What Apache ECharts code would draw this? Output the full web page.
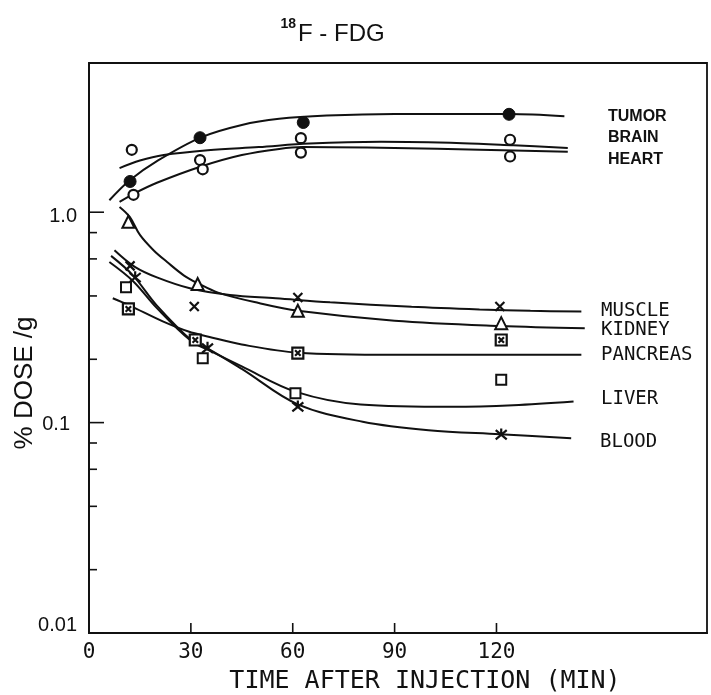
<!DOCTYPE html>
<html>
<head>
<meta charset="utf-8">
<script src="https://cdn.jsdelivr.net/npm/echarts@6/dist/echarts.min.js"></script>
<style>
html,body{margin:0;padding:0;background:#fff;}
#c{width:711px;height:695px;}
</style>
</head>
<body>
<div id="c"></div>
<script>
// ---------- data ----------
const xTickLabels = [0, 30, 60, 90, 120];
const xTicks = [30, 60, 90, 120];
const yMajorTicks = [0.01, 0.1, 1];
const yMinorTicks = [0.02, 0.04, 0.06, 0.08, 0.2, 0.4, 0.6, 0.8];

// measured points [min, %dose/g]
const tumorPts    = [[12.1,1.40],[32.7,2.26],[63.1,2.67],[123.7,2.92]];
const brainPts    = [[12.6,1.98],[32.7,1.77],[62.4,2.25],[124,2.21]];
const heartPts    = [[13.1,1.21],[33.5,1.60],[62.4,1.92],[124,1.84]];
const musclePts   = [[12.1,0.556],[31,0.356],[61.5,0.393],[121,0.356]];
const kidneyPts   = [[11.6,0.90],[32,0.456],[61.5,0.34],[121.4,0.297]];
const pancreasPts = [[11.6,0.347],[31.3,0.247],[61.5,0.214],[121.4,0.247]];
const liverPts    = [[10.9,0.44],[33.5,0.202],[60.8,0.138],[121.4,0.160]];
const bloodPts    = [[13.6,0.494],[34.9,0.228],[61.5,0.120],[121.4,0.0884]];

// hand-drawn fitted curves
const tumorCurve    = [[6,1.14],[12,1.42],[20,1.75],[33,2.27],[45,2.6],[56,2.78],[70,2.88],[90,2.93],[123.7,2.93],[140,2.86]];
const brainCurve    = [[9,1.62],[15,1.76],[22,1.87],[35,1.97],[50,2.04],[65,2.12],[86,2.16],[110,2.13],[125,2.08],[141,2.02]];
const heartCurve    = [[9,1.12],[13,1.22],[20,1.38],[33,1.65],[45,1.87],[56,2.0],[63,2.04],[90,2.02],[115,1.98],[141,1.94]];
const muscleCurve   = [[7.5,0.66],[13.5,0.55],[20,0.49],[29.7,0.435],[41.5,0.404],[55,0.39],[71,0.373],[95,0.355],[115,0.345],[130,0.34],[145,0.337]];
const kidneyCurve   = [[9,1.06],[12,0.95],[15,0.78],[19,0.66],[23,0.58],[28,0.5],[32,0.46],[38,0.415],[50,0.37],[61.5,0.34],[90,0.305],[121,0.288],[146,0.281]];
const pancreasCurve = [[7,0.39],[12,0.36],[21.9,0.302],[29.3,0.271],[35.2,0.256],[45,0.235],[61.5,0.215],[90,0.21],[120,0.21],[145,0.21]];
const liverCurve    = [[6,0.58],[13,0.47],[20,0.35],[30,0.245],[36,0.218],[45,0.185],[61,0.14],[80,0.122],[107,0.119],[125,0.121],[142.7,0.126]];
const bloodCurve    = [[6.5,0.62],[13,0.50],[20,0.36],[30.7,0.242],[35,0.225],[45,0.18],[61.5,0.122],[80.6,0.101],[100,0.092],[121,0.088],[142,0.0842]];

const tissueLabels = ['TUMOR','BRAIN','HEART','MUSCLE','KIDNEY','PANCREAS','LIVER','BLOOD'];
// ---------------------------------------------------

const INK = '#111';
const chart = echarts.init(document.getElementById('c'), null, {renderer:'canvas'});

function curve(name, data){
  return {type:'line', name:name, data:data, smooth:0.35, showSymbol:false, symbol:'none',
    lineStyle:{color:INK, width:2}, z:2, silent:true, animation:false};
}
function pts(name, data, symbol, size, fill, bw){
  return {type:'scatter', name:name, data:data, symbol:symbol, symbolSize:size,
    itemStyle:{color:fill, borderColor:INK, borderWidth:bw, opacity:1}, z:4, silent:true, animation:false};
}
const X_PATH = 'path://M0,0L10,10M10,0L0,10';
const STAR_PATH = 'path://M0,1L10,11M10,1L0,11M5,-1L5,6';
const BOXX_PATH = 'path://M0,0L10,0L10,10L0,10Z M2.5,2.5L7.5,7.5M7.5,2.5L2.5,7.5';

function tickSeries(data, len, dir){
  return {type:'custom', data:data, clip:false, silent:true, z:5, animation:false,
    renderItem:function(params, api){
      const p = api.coord([api.value(0), api.value(1)]);
      const shape = dir==='y' ? {x1:p[0], y1:p[1], x2:p[0]+len, y2:p[1]} : {x1:p[0], y1:p[1], x2:p[0], y2:p[1]-len};
      return {type:'line', shape:shape, style:{stroke:INK, lineWidth:1.6}};
    }};
}

const labelFont = '"DejaVu Sans Mono", monospace';
const topFont = '"Liberation Sans", Arial, sans-serif';

function txt(text, x, y, size, family, align, extra, weight){
  return Object.assign({type:'text', x:x, y:y, silent:true,
    style:{text:text, fontSize:size, fontFamily:family, fontWeight:weight||'normal', fill:INK, align:align||'left', verticalAlign:'middle',
      textAlign:align||'left', textVerticalAlign:'middle'}}, extra||{});
}

const yLabelFont = {fontSize:20, fontFamily:'"Liberation Sans Narrow","Liberation Sans",Arial,sans-serif', color:INK};

const option = {
  backgroundColor:'#fff',
  animation:false,
  grid:{left:89, top:63, right:4, bottom:62, show:true, borderColor:INK, borderWidth:1.8, containLabel:false},
  xAxis:{type:'value', min:0, max:182, interval:30,
    axisLine:{show:true, lineStyle:{color:INK, width:1.8}},
    axisTick:{show:false}, splitLine:{show:false},
    axisLabel:{margin:9, fontSize:21, fontFamily:labelFont, color:INK,
      formatter:function(v){ return xTickLabels.indexOf(v)>=0 ? String(v) : ''; }}
  },
  yAxis:{type:'log', logBase:10, min:0.01, max:5.12,
    axisLine:{show:true, lineStyle:{color:INK, width:1.8}},
    axisTick:{show:false}, splitLine:{show:false}, minorTick:{show:false},
    axisLabel:{margin:12, showMaxLabel:false,
      formatter:function(v){
        const l = Math.round(Math.log10(v)*1000)/1000;
        if (l===0) return '{a|1.0}';
        if (l===-1) return '{b|0.1}';
        if (l===-2) return '{c|0.01}';
        return '';
      },
      rich:{
        a:Object.assign({padding:[8,0,0,0]}, yLabelFont),
        b:Object.assign({padding:[4,7,0,0]}, yLabelFont),
        c:Object.assign({padding:[0,0,16,0]}, yLabelFont)
      }}
  },
  series:[
    curve('tumorCurve', tumorCurve),
    curve('brainCurve', brainCurve),
    curve('heartCurve', heartCurve),
    curve('muscleCurve', muscleCurve),
    curve('kidneyCurve', kidneyCurve),
    curve('pancreasCurve', pancreasCurve),
    curve('liverCurve', liverCurve),
    curve('bloodCurve', bloodCurve),
    pts('TUMOR', tumorPts, 'circle', 12, INK, 1),
    pts('BRAIN', brainPts, 'circle', 10, '#fff', 2.2),
    pts('HEART', heartPts, 'circle', 10, '#fff', 2.2),
    pts('MUSCLE', musclePts, X_PATH, 9, 'rgba(0,0,0,0)', 2.2),
    pts('KIDNEY', kidneyPts, 'triangle', 12, '#fff', 2),
    pts('PANCREAS', pancreasPts, BOXX_PATH, 11, '#fff', 2.2),
    pts('LIVER', liverPts, 'rect', 10, '#fff', 2),
    pts('BLOOD', bloodPts, STAR_PATH, 11, 'rgba(0,0,0,0)', 2.2),
    tickSeries(yMajorTicks.map(v=>[0,v]), 15, 'y'),
    tickSeries(yMinorTicks.map(v=>[0,v]), 8, 'y'),
    tickSeries(xTicks.map(v=>[v,0.01]), 10, 'x')
  ],
  graphic:[
    txt('18', 296, 24, 14, topFont, 'right', null, 'bold'),
    txt('F - FDG', 298, 34, 24, topFont, 'left'),
    txt(tissueLabels[0], 608, 117, 16, topFont, 'left', null, 'bold'),
    txt(tissueLabels[1], 608, 138, 16, topFont, 'left', null, 'bold'),
    txt(tissueLabels[2], 608, 160, 16, topFont, 'left', null, 'bold'),
    txt(tissueLabels[3], 601, 311, 19, labelFont),
    txt(tissueLabels[4], 601, 330, 19, labelFont),
    txt(tissueLabels[5], 601, 355, 19, labelFont),
    txt(tissueLabels[6], 601, 399, 19, labelFont),
    txt(tissueLabels[7], 600, 442, 19, labelFont),
    txt('TIME AFTER INJECTION (MIN)', 425, 681, 25, labelFont, 'center'),
    txt('% DOSE /g', 25, 383, 26, topFont, 'center', {rotation:Math.PI/2})
  ]
};
chart.setOption(option);
</script>
</body>
</html>
